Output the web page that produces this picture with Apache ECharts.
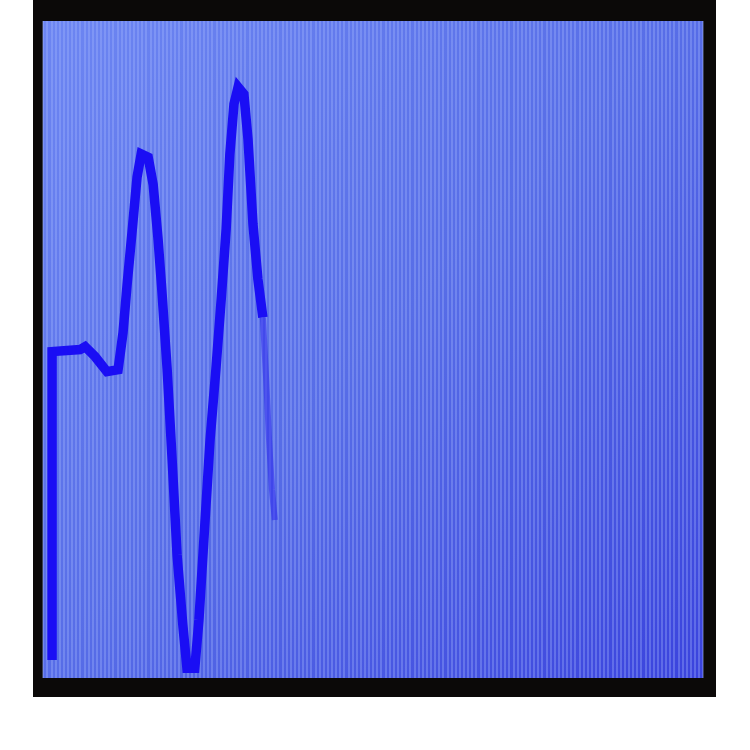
<!DOCTYPE html>
<html>
<head>
<meta charset="utf-8">
<title>waveform</title>
<script src="https://cdn.jsdelivr.net/npm/echarts@6/dist/echarts.min.js"></script>
<style>
	html, body { margin: 0; padding: 0; background: #ffffff; }
	#frame { position: absolute; left: 33px; top: 0; width: 683px; height: 697px; background: #0b0908; }
	#main { position: absolute; left: 0; top: 0; width: 750px; height: 750px; }
</style>
</head>
<body>
<div id="frame"></div>
<div id="main"></div>
<script>
// 波形采样点 (屏幕列, 电平)
var waveX = [2.2, 2.2, 9, 10.2, 12.6, 15.5, 18.2, 19.4, 20.4, 21.6, 22.8, 23.8, 25.5, 26.7, 27.9, 28.8, 30.1, 31.3, 32.5, 33.9, 34.9, 36.8, 37.8, 39, 40.5, 41.9, 43.2, 44.4, 45.3, 46.3, 47.3, 48.7, 49.7, 50.9, 52.1, 53.3];
var waveY = [4.4, 79.5, 80, 80.7, 78.3, 74.6, 75.1, 84.1, 95.9, 108.8, 122, 127.6, 126.8, 120.2, 106.8, 94.6, 75.1, 53.2, 30, 12.9, 2.4, 2.4, 14.1, 33.7, 58, 75, 92.2, 109.3, 127.6, 139.8, 143.9, 142.2, 131.2, 110.5, 97.1, 87.8];
// 尾部（刷新中，颜色较淡）
var tailX = [53.3, 54.1, 54.8, 55.5, 56.2];
var tailY = [87.8, 72.7, 58, 45.9, 38.5];

var Wave = {
	init: function() {
		this.chart();
	},
	pairs: function(xs, ys) {
		var out = [];
		for(var i = 0; i < xs.length; i++) {
			out.push([xs[i], ys[i]]);
		}
		return out;
	},
	chart: function() {
		var waveChart = echarts.init(document.getElementById('main'));
		var option = {
			animation: false,
			grid: {
				left: 43,
				right: 47,
				top: 21,
				bottom: 72,
				show: true,
				borderWidth: 0,
				backgroundColor: new echarts.graphic.LinearGradient(0, 0, 1, 1, [
					{ offset: 0, color: '#6d86f2' },
					{ offset: 0.5, color: '#576de7' },
					{ offset: 1, color: '#3a43dd' }
				])
			},
			xAxis: {
				type: 'value',
				min: 0,
				max: 160,
				interval: 1,
				axisLine: { show: false },
				axisTick: { show: false },
				axisLabel: { show: false },
				splitLine: {
					show: true,
					lineStyle: { color: 'rgba(170,190,255,0.4)', width: 1.6 }
				}
			},
			yAxis: {
				type: 'value',
				min: 0,
				max: 160,
				axisLine: { show: false },
				axisTick: { show: false },
				axisLabel: { show: false },
				splitLine: { show: false }
			},
			series: [{
				type: 'line',
				data: this.pairs(waveX, waveY),
				symbol: 'none',
				lineStyle: { color: '#1a0ef4', width: 9.5, join: 'miter' }
			}, {
				type: 'line',
				data: this.pairs(tailX, tailY),
				symbol: 'none',
				lineStyle: { color: '#2a22ee', width: 6, opacity: 0.5 }
			}]
		};
		waveChart.setOption(option, true);
	}
};
Wave.init();
</script>
</body>
</html>
